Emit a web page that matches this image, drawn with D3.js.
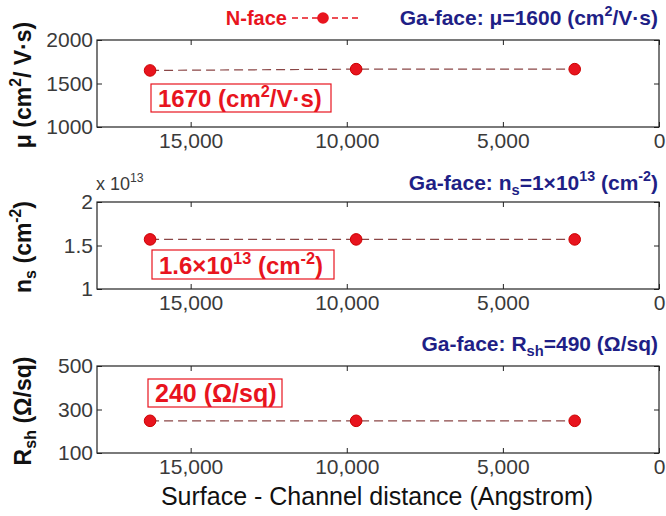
<!DOCTYPE html>
<html>
<head>
<meta charset="utf-8">
<script src="https://cdn.jsdelivr.net/npm/d3@7"></script>
<style>
  body { margin: 0; background: #fff; }
  svg { font-family: "Liberation Sans", Arial, sans-serif; }
</style>
</head>
<body>
<div id="chart"></div>
<script>
// values
const distance = [16300, 9700, 2700]
const mobility = [1650, 1665, 1665]
const density = [1.57, 1.57, 1.57]   // x 1e13
const sheetRes = [248, 248, 248]

const xTicks = [15000, 10000, 5000, 0]
const muTicks = [1000, 1500, 2000]
const nsTicks = [1, 1.5, 2]
const rshTicks = [100, 300, 500]

const width = 666, height = 516
const left = 97, right = 659

const svg = d3.select('#chart').append('svg')
    .attr('width', width)
    .attr('height', height)

const x = d3.scaleLinear().domain([18000, 0]).range([left, right])

const red = '#e8141e', navy = '#1f1f86', lineCol = '#8a4646'

const panels = [
  {top: 40, bottom: 127, domain: [1000, 2000], ticks: muTicks, values: mobility},
  {top: 202, bottom: 289, domain: [1, 2], ticks: nsTicks, values: density},
  {top: 366, bottom: 453, domain: [100, 500], ticks: rshTicks, values: sheetRes}
]

panels.forEach(function(p){
  let y = d3.scaleLinear().domain(p.domain).range([p.bottom, p.top])
  let g = svg.append('g')

  // ticks point inward like the matlab box
  g.append('g')
    .attr('transform', 'translate(0,' + p.bottom + ')')
    .call(d3.axisBottom(x).tickValues(xTicks).tickFormat(d3.format(',')).tickSizeInner(-5).tickSizeOuter(0).tickPadding(6))
  g.append('g')
    .attr('transform', 'translate(0,' + p.top + ')')
    .call(d3.axisTop(x).tickValues(xTicks).tickFormat('').tickSizeInner(-5).tickSizeOuter(0))
  g.append('g')
    .attr('transform', 'translate(' + left + ',0)')
    .call(d3.axisLeft(y).tickValues(p.ticks).tickFormat(function(d){ return String(d) }).tickSizeInner(-5).tickSizeOuter(0).tickPadding(4))
  g.append('g')
    .attr('transform', 'translate(' + right + ',0)')
    .call(d3.axisRight(y).tickValues(p.ticks).tickFormat('').tickSizeInner(-5).tickSizeOuter(0))

  g.selectAll('.domain').remove()
  g.selectAll('.tick line').attr('stroke', '#222')
  g.selectAll('.tick text').style('font-size', '21px').attr('fill', '#3a3a3a')
    .style('font-family', '"Liberation Sans", Arial, sans-serif')

  g.append('rect')
    .attr('x', left).attr('y', p.top)
    .attr('width', right - left).attr('height', p.bottom - p.top)
    .attr('fill', 'none').attr('stroke', '#222').attr('stroke-width', 1.2)

  let pts = distance.map(function(d, i){ return [d, p.values[i]] })
  g.append('path')
    .datum(pts)
    .attr('d', d3.line().x(function(d){ return x(d[0]) }).y(function(d){ return y(d[1]) }))
    .attr('fill', 'none').attr('stroke', lineCol).attr('stroke-width', 1.2)
    .attr('stroke-dasharray', '9,5')
  g.selectAll('circle').data(pts).enter().append('circle')
    .attr('cx', function(d){ return x(d[0]) })
    .attr('cy', function(d){ return y(d[1]) })
    .attr('r', 5.8)
    .attr('fill', red).attr('stroke', '#c00').attr('stroke-width', 1)
})

// text with super/subscripts, shifts done with dy
function richText(x0, y0, anchor, color, size, weight, parts){
  let t = svg.append('text').attr('x', x0).attr('y', y0).attr('text-anchor', anchor)
    .attr('fill', color).style('font-size', size + 'px').style('font-weight', weight)
  let shift = 0
  parts.forEach(function(pt){
    let s = t.append('tspan').text(pt[0])
    let want = 0
    if (pt[1] == 'sup') { want = -0.42 * size; s.style('font-size', (size * 0.68) + 'px') }
    if (pt[1] == 'sub') { want = 0.22 * size; s.style('font-size', (size * 0.7) + 'px') }
    s.attr('dy', want - shift)
    shift = want
  })
  return t
}

// legend
svg.append('text').attr('x', 287).attr('y', 25).attr('text-anchor', 'end')
  .attr('fill', red).style('font-size', '20px').style('font-weight', 'bold').text('N-face')
svg.append('line').attr('x1', 292).attr('x2', 360).attr('y1', 18).attr('y2', 18)
  .attr('stroke', red).attr('stroke-width', 1.5).attr('stroke-dasharray', '6,4')
svg.append('circle').attr('cx', 323).attr('cy', 18).attr('r', 5.8).attr('fill', red)

// Ga-face annotations
richText(658, 25, 'end', navy, 21, 'bold', [['Ga-face: \u03bc=1600 (cm'], ['2', 'sup'], ['/V\u00b7s)']])
richText(658, 190, 'end', navy, 21, 'bold', [['Ga-face: n'], ['s', 'sub'], ['=1\u00d710'], ['13', 'sup'], [' (cm'], ['-2', 'sup'], [')']])
richText(658, 351, 'end', navy, 21, 'bold', [['Ga-face: R'], ['sh', 'sub'], ['=490 (\u03a9/sq)']])

// exponent label
richText(96, 190, 'start', '#3a3a3a', 18, 'normal', [['x 10'], ['13', 'sup']])

// red value boxes
function valueBox(x0, y0, w, h, size, parts){
  svg.append('rect').attr('x', x0).attr('y', y0).attr('width', w).attr('height', h)
    .attr('fill', 'none').attr('stroke', red).attr('stroke-width', 1.2)
  richText(x0 + 7, y0 + h - 5, 'start', red, size, 'bold', parts)
}
valueBox(151, 84, 180, 28, 24, [['1670 (cm'], ['2', 'sup'], ['/V\u00b7s)']])
valueBox(152, 250, 182, 29, 24, [['1.6\u00d710'], ['13', 'sup'], [' (cm'], ['-2', 'sup'], [')']])
valueBox(148, 379, 134, 28, 25, [['240 (\u03a9/sq)']])

// y axis titles
function yTitle(cy, parts){
  let t = richText(0, 0, 'middle', '#111', 23, 'bold', parts)
  t.attr('transform', 'translate(31,' + cy + ') rotate(-90)')
}
yTitle(85, [['\u03bc (cm'], ['2', 'sup'], ['/ V\u00b7s)']])
yTitle(247, [['n'], ['s', 'sub'], [' (cm'], ['-2', 'sup'], [')']])
yTitle(411, [['R'], ['sh', 'sub'], [' (\u03a9/sq)']])

// x axis title
svg.append('text').attr('x', 377).attr('y', 505).attr('text-anchor', 'middle')
  .attr('fill', '#111').style('font-size', '25px').text('Surface - Channel distance (Angstrom)')
</script>
</body>
</html>
